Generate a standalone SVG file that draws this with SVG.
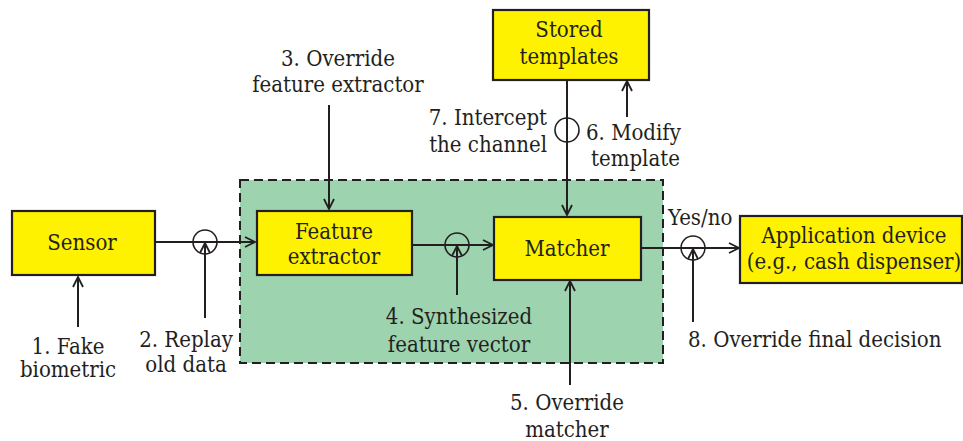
<svg xmlns="http://www.w3.org/2000/svg" width="963" height="441" viewBox="0 0 963 441">
<defs>
<marker id="ah" viewBox="0 0 12 12" refX="11" refY="6" markerWidth="12" markerHeight="12" markerUnits="userSpaceOnUse" orient="auto">
<path d="M1,1 L11,6 L1,11" fill="none" stroke="#231f20" stroke-width="1.8"/>
</marker>
</defs>
<style>
.box{fill:#fff200;stroke:#231f20;stroke-width:2.2}
.t{font-family:"DejaVu Serif",serif;font-stretch:condensed;font-size:22px;fill:#231f20}
.m{text-anchor:middle}
.e{text-anchor:end}
.ln{fill:none;stroke:#231f20;stroke-width:2}
.c{fill:none;stroke:#231f20;stroke-width:1.6}
</style>
<rect x="0" y="0" width="963" height="441" fill="#ffffff"/>
<g id="core">
<rect x="240" y="180" width="423" height="183" fill="#9dd3ae" stroke="#231f20" stroke-width="2" stroke-dasharray="9,5"/>
</g>
<g id="connectors">
<line class="ln" x1="155" y1="242" x2="255" y2="242" marker-end="url(#ah)"/>
<circle class="c" cx="205" cy="242" r="12"/>
<line class="ln" x1="205" y1="318" x2="205" y2="243" marker-end="url(#ah)"/>
<line class="ln" x1="78" y1="327" x2="78" y2="277" marker-end="url(#ah)"/>
<line class="ln" x1="329" y1="105" x2="329" y2="209" marker-end="url(#ah)"/>
<line class="ln" x1="412" y1="245" x2="493" y2="245" marker-end="url(#ah)"/>
<circle class="c" cx="457" cy="245" r="12"/>
<line class="ln" x1="457" y1="295" x2="457" y2="246" marker-end="url(#ah)"/>
<line class="ln" x1="567" y1="80" x2="567" y2="215" marker-end="url(#ah)"/>
<circle class="c" cx="567" cy="130" r="12"/>
<line class="ln" x1="627" y1="117" x2="627" y2="81" marker-end="url(#ah)"/>
<line class="ln" x1="570" y1="385" x2="570" y2="281" marker-end="url(#ah)"/>
<line class="ln" x1="641" y1="248" x2="739" y2="248" marker-end="url(#ah)"/>
<circle class="c" cx="693" cy="248" r="12"/>
<line class="ln" x1="693" y1="322" x2="693" y2="249" marker-end="url(#ah)"/>
</g>
<g id="sensor">
<rect class="box" x="12" y="211" width="143" height="64"/>
<text class="t m" x="82" y="250">Sensor</text>
</g>
<g id="feature-extractor">
<rect class="box" x="257" y="211" width="155" height="64"/>
<text class="t m" x="334" y="239">Feature</text>
<text class="t m" x="334" y="264">extractor</text>
</g>
<g id="stored-templates">
<rect class="box" x="493" y="10" width="156" height="70"/>
<text class="t m" x="569" y="37">Stored</text>
<text class="t m" x="569" y="64">templates</text>
</g>
<g id="matcher">
<rect class="box" x="494" y="217" width="147" height="63"/>
<text class="t m" x="567" y="256">Matcher</text>
</g>
<g id="application-device">
<rect class="box" x="740" y="216" width="222" height="67"/>
<text class="t m" x="854" y="243">Application device</text>
<text class="t m" x="854" y="269">(e.g., cash dispenser)</text>
</g>
<g id="labels">
<text class="t m" x="68" y="354">1. Fake</text>
<text class="t m" x="68" y="377">biometric</text>
<text class="t m" x="186" y="347">2. Replay</text>
<text class="t m" x="186" y="372">old data</text>
<text class="t m" x="338" y="66">3. Override</text>
<text class="t m" x="338" y="92">feature extractor</text>
<text class="t e" x="547" y="125">7. Intercept</text>
<text class="t e" x="547" y="152">the channel</text>
<text class="t" x="586" y="140">6. Modify</text>
<text class="t" x="591" y="166">template</text>
<text class="t m" x="459" y="324">4. Synthesized</text>
<text class="t m" x="459" y="352">feature vector</text>
<text class="t m" x="567" y="410">5. Override</text>
<text class="t m" x="567" y="437">matcher</text>
<text class="t" x="668" y="225">Yes/no</text>
<text class="t" x="688" y="347">8. Override final decision</text>
</g>
</svg>
